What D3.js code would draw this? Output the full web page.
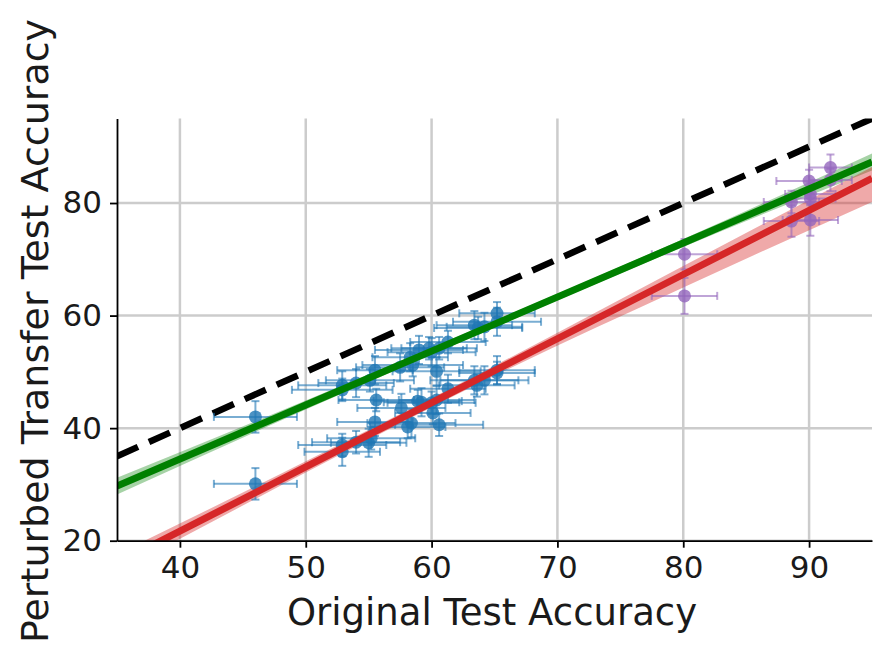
<!DOCTYPE html>
<html><head><meta charset="utf-8">
<script src="https://cdn.jsdelivr.net/npm/d3@7/dist/d3.min.js"></script>
<style>body{margin:0;background:#fff}svg{display:block}</style>
</head><body>
<svg id="c" width="884" height="660"></svg>
<script>
// ---- data ----
const xTicks = [40, 50, 60, 70, 80, 90];
const yTicks = [20, 40, 60, 80];
// blue points: [x, y, xerr, yerr]
const bluePoints = [
  [52.9,47.6,3.5,2.5],[52.9,46.8,4.0,2.0],[54.0,48.0,3.0,2.5],[55.1,48.5,3.5,2.0],
  [55.5,50.3,3.0,2.5],[55.6,45.0,3.0,2.0],[57.5,50.8,3.5,2.5],[58.3,52.6,3.0,2.5],
  [58.5,51.2,4.0,2.0],[59.0,53.9,3.5,2.5],[59.8,54.2,3.0,2.0],[60.0,53.5,3.5,2.5],
  [60.6,54.2,3.0,2.0],[61.3,55.3,3.0,2.0],[60.4,50.1,3.5,2.5],[63.4,58.3,3.0,2.5],
  [63.7,57.8,3.5,2.0],[64.2,58.0,3.0,2.5],[65.2,60.4,3.0,2.0],[65.2,58.9,3.5,2.5],
  [52.9,37.0,3.5,2.0],[52.9,35.8,3.0,2.5],[54.0,37.5,3.5,2.0],[55.0,37.4,3.0,2.5],
  [55.2,38.2,3.5,2.0],[55.5,41.1,3.0,2.5],[57.6,43.6,3.5,2.5],[58.1,40.2,3.0,2.0],
  [58.4,40.9,3.5,2.5],[58.9,44.8,3.5,2.0],[59.2,44.6,3.0,2.5],[60.0,44.5,3.5,2.0],
  [60.4,45.0,3.0,2.5],[60.1,42.7,3.0,2.0],[60.6,40.6,3.5,2.0],[61.3,47.0,3.0,2.5],
  [63.4,48.5,3.5,2.5],[63.6,47.6,3.0,2.0],[64.2,48.5,3.5,2.5],[65.2,49.8,3.0,2.0],
  [65.2,50.3,3.0,2.5],
  [46.0,42.0,3.3,2.8],[46.0,30.1,3.3,2.8]
];
// purple points: [x, y, xerr, yerr]
const purplePoints = [
  [80.1,70.9,2.6,2.7],[80.1,63.5,2.6,3.2],[88.6,80.2,2.2,2.0],[88.6,76.8,2.2,2.8],
  [90.0,83.9,2.6,2.0],[90.1,81.6,2.0,2.0],[90.1,80.8,2.0,2.0],[90.1,77.0,2.2,2.8],
  [91.7,86.3,1.7,2.3],[91.7,84.1,1.7,2.0]
];
// fitted lines: [x, y, lo, hi]
const greenFit = [[35,29.7,28.2,31.2],[50,44.1,43.3,44.9],[62,55.6,55.0,56.2],[80,72.9,72.2,73.6],[95,87.3,85.8,88.8]];
const redFit = [[35,16.0,14.4,17.6],[50,33.1,32.1,34.1],[65,50.2,49.3,51.1],[80,67.3,65.0,68.8],[95,84.4,80.2,86.4]];
const diagLine = [[35,35],[95,95]];

// ---- layout ----
const L = 117, R = 872, T = 118.6, B = 540.7;
const svg = d3.select("#c");
const x = d3.scaleLinear().domain([35,95]).range([L,R]);
const y = d3.scaleLinear().domain([20,95]).range([B,T]);
const font = "DejaVu Sans, sans-serif";
const textColor = "#1a1a1a";

svg.append("defs").append("clipPath").attr("id","clip")
  .append("rect").attr("x",L).attr("y",T).attr("width",R-L).attr("height",B-T);

// grid
const grid = svg.append("g");
grid.selectAll(".gx").data(xTicks).enter().append("line")
  .attr("x1",d=>x(d)).attr("x2",d=>x(d)).attr("y1",T).attr("y2",B)
  .attr("stroke","#cccccc").attr("stroke-width",2.5);
grid.selectAll(".gy").data(yTicks).enter().append("line")
  .attr("y1",d=>y(d)).attr("y2",d=>y(d)).attr("x1",L).attr("x2",R)
  .attr("stroke","#cccccc").attr("stroke-width",2.5);

const plot = svg.append("g").attr("clip-path","url(#clip)");

const area = d3.area().x(d=>x(d[0])).y0(d=>y(d[2])).y1(d=>y(d[3])).curve(d3.curveMonotoneX);
const line = d3.line().x(d=>x(d[0])).y(d=>y(d[1]));

// diagonal
plot.append("path").datum(diagLine).attr("d",line).attr("fill","none")
  .attr("stroke","#000").attr("stroke-width",6.5).attr("stroke-dasharray","23,12");

// bands
plot.append("path").datum(greenFit).attr("d",area).attr("fill","#008000").attr("fill-opacity",0.35);
plot.append("path").datum(redFit).attr("d",area).attr("fill","#d62728").attr("fill-opacity",0.4);

function drawPoints(data, color){
  const g = plot.append("g");
  const eb = g.append("g").attr("stroke",color).attr("stroke-opacity",0.6).attr("stroke-width",2);
  data.forEach(d=>{
    const cx=x(d[0]), cy=y(d[1]);
    const x0=x(d[0]-d[2]), x1=x(d[0]+d[2]);
    const y0=y(d[1]-d[3]), y1=y(d[1]+d[3]);
    eb.append("line").attr("x1",x0).attr("x2",x1).attr("y1",cy).attr("y2",cy);
    eb.append("line").attr("x1",cx).attr("x2",cx).attr("y1",y0).attr("y2",y1);
    eb.append("line").attr("x1",x0).attr("x2",x0).attr("y1",cy-4).attr("y2",cy+4);
    eb.append("line").attr("x1",x1).attr("x2",x1).attr("y1",cy-4).attr("y2",cy+4);
    eb.append("line").attr("x1",cx-4).attr("x2",cx+4).attr("y1",y0).attr("y2",y0);
    eb.append("line").attr("x1",cx-4).attr("x2",cx+4).attr("y1",y1).attr("y2",y1);
  });
  g.selectAll("circle").data(data).enter().append("circle")
    .attr("cx",d=>x(d[0])).attr("cy",d=>y(d[1])).attr("r",6.5)
    .attr("fill",color).attr("fill-opacity",0.8);
}
drawPoints(bluePoints,"#1f77b4");
drawPoints(purplePoints,"#9467bd");

plot.append("path").datum(greenFit).attr("d",line).attr("fill","none")
  .attr("stroke","#008000").attr("stroke-width",7);
plot.append("path").datum(redFit).attr("d",line).attr("fill","none")
  .attr("stroke","#d62728").attr("stroke-width",7);

// axes
const xa = svg.append("g").attr("transform",`translate(0,${B})`)
  .call(d3.axisBottom(x).tickValues(xTicks).tickSize(7).tickPadding(8).tickSizeOuter(0));
const ya = svg.append("g").attr("transform",`translate(${L},0)`)
  .call(d3.axisLeft(y).tickValues(yTicks).tickSize(7).tickPadding(8).tickSizeOuter(0));
[xa,ya].forEach(a=>{
  a.select(".domain").attr("stroke","#000").attr("stroke-width",1.8);
  a.selectAll(".tick line").attr("stroke","#000").attr("stroke-width",1.8);
  a.selectAll(".tick text").attr("font-family",font).attr("font-size",31).attr("fill",textColor);
});

svg.append("text").attr("x",492).attr("y",625).attr("text-anchor","middle")
  .attr("font-family",font).attr("font-size",37).attr("fill",textColor).text("Original Test Accuracy");
svg.append("text").attr("transform",`translate(48,331) rotate(-90)`).attr("text-anchor","middle")
  .attr("font-family",font).attr("font-size",38).attr("fill",textColor).text("Perturbed Transfer Test Accuracy");
</script>
</body></html>
